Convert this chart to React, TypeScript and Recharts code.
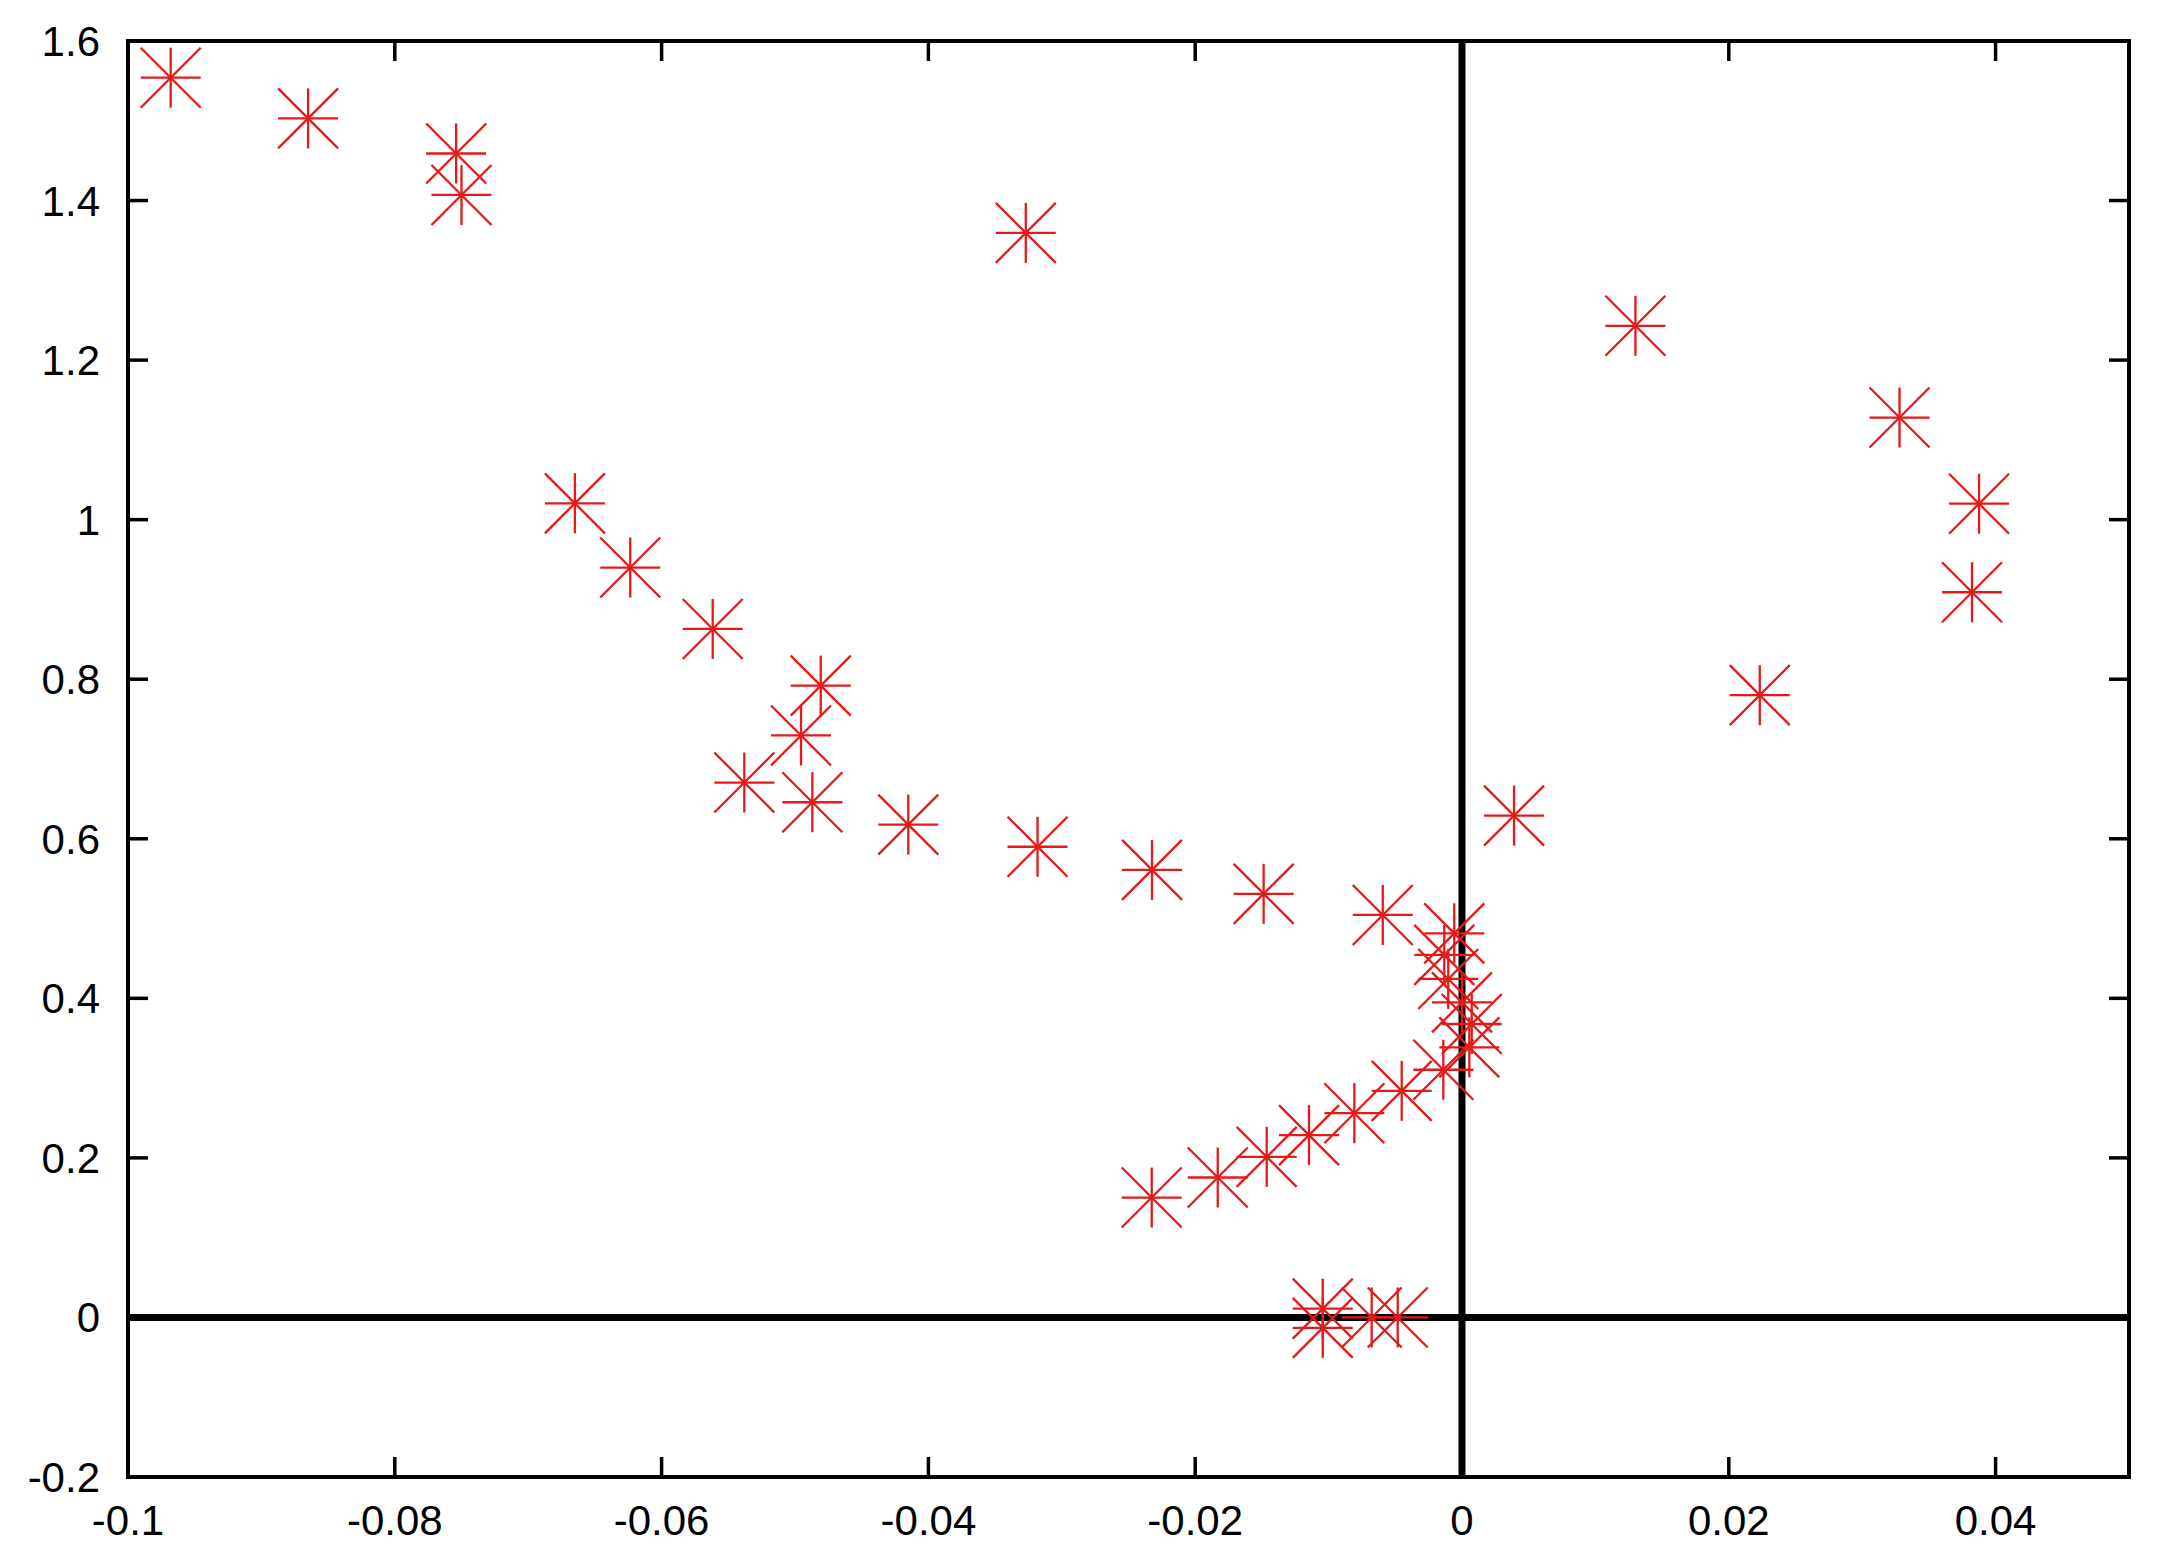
import React from 'react';
import { ScatterChart, Scatter, XAxis, YAxis, ReferenceLine, ReferenceArea } from 'recharts';

const xValues = [
  -0.0968, -0.0865, -0.0754, -0.075, -0.0327, 0.013, 0.0328, 0.03876, 0.03823, 0.02232,
  0.0039, -0.0665, -0.06235, -0.05617, -0.04807, -0.04955, -0.0538, -0.0487, -0.04151, -0.03182,
  -0.02324, -0.01487, -0.00594, -0.00058, -0.00133, -0.00103, 0.0, 0.00073, 0.00055, -0.0014,
  -0.00452, -0.00807, -0.01147, -0.01464, -0.01831, -0.02326, -0.01044, -0.01044, -0.00677, -0.00482,
];
const yValues = [
  1.554, 1.503, 1.459, 1.407, 1.3595, 1.243, 1.128, 1.02, 0.909, 0.78,
  0.629, 1.0205, 0.94, 0.863, 0.792, 0.7295, 0.6705, 0.6458, 0.6178, 0.59,
  0.561, 0.531, 0.5045, 0.4815, 0.4544, 0.4243, 0.3949, 0.3678, 0.3385, 0.3105,
  0.284, 0.256, 0.2286, 0.2013, 0.1754, 0.1503, 0.011, -0.013, 0.0, 0.0,
];
const xTicks = [-0.1, -0.08, -0.06, -0.04, -0.02, 0, 0.02, 0.04];
const yTicks = [-0.2, 0, 0.2, 0.4, 0.6, 0.8, 1, 1.2, 1.4, 1.6];
const xDomain: [number, number] = [-0.1, 0.05];
const yDomain: [number, number] = [-0.2, 1.6];

const points = xValues.map((x, i) => ({ x, y: yValues[i] }));

const RED = '#e81818';
const FONT = '"Liberation Sans", Arial, Helvetica, sans-serif';
const FS = 42;
const TICK_LEN = 20;
const TICK_W = 3.5;

const Star = (props: any) => {
  const { cx, cy } = props;
  if (cx == null || cy == null) return <g />;
  const r = 30;
  return (
    <g stroke={RED} strokeWidth={2.3} fill="none">
      <line x1={cx - r} y1={cy} x2={cx + r} y2={cy} />
      <line x1={cx} y1={cy - r} x2={cx} y2={cy + r} />
      <line x1={cx - r} y1={cy - r} x2={cx + r} y2={cy + r} />
      <line x1={cx - r} y1={cy + r} x2={cx + r} y2={cy - r} />
    </g>
  );
};

const Empty = () => <g />;

const BottomTick = (props: any) => {
  const { x, y, payload } = props;
  return (
    <g>
      <line x1={x} y1={y} x2={x} y2={y - TICK_LEN} stroke="#000" strokeWidth={TICK_W} />
      <text x={x} y={y + 58} textAnchor="middle" fontSize={FS} fontFamily={FONT} fill="#000">
        {String(payload.value)}
      </text>
    </g>
  );
};

const TopTick = (props: any) => {
  const { x, y } = props;
  return <line x1={x} y1={y} x2={x} y2={y + TICK_LEN} stroke="#000" strokeWidth={TICK_W} />;
};

const LeftTick = (props: any) => {
  const { x, y, payload } = props;
  return (
    <g>
      <line x1={x} y1={y} x2={x + TICK_LEN} y2={y} stroke="#000" strokeWidth={TICK_W} />
      <text x={x - 28} y={y + 15} textAnchor="end" fontSize={FS} fontFamily={FONT} fill="#000">
        {String(payload.value)}
      </text>
    </g>
  );
};

const RightTick = (props: any) => {
  const { x, y } = props;
  return <line x1={x} y1={y} x2={x - TICK_LEN} y2={y} stroke="#000" strokeWidth={TICK_W} />;
};

export default function App() {
  return (
    <div style={{ position: 'absolute', left: 0, top: 0, width: 2158, height: 1558, background: '#fff' }}>
      <ScatterChart width={2158} height={1558} margin={{ top: 0, right: 0, bottom: 0, left: 0 }}>
        <XAxis
          dataKey="x"
          type="number"
          xAxisId="bottom"
          orientation="bottom"
          domain={xDomain}
          ticks={xTicks}
          interval={0}
          height={81}
          tickSize={0}
          tickMargin={0}
          tickLine={false}
          axisLine={false}
          tick={<BottomTick />}
        />
        <XAxis
          dataKey="x"
          type="number"
          xAxisId="top"
          orientation="top"
          domain={xDomain}
          ticks={xTicks}
          interval={0}
          height={41}
          tickSize={0}
          tickMargin={0}
          tickLine={false}
          axisLine={false}
          tick={<TopTick />}
        />
        <YAxis
          dataKey="y"
          type="number"
          yAxisId="left"
          orientation="left"
          domain={yDomain}
          ticks={yTicks}
          interval={0}
          width={128}
          tickSize={0}
          tickMargin={0}
          tickLine={false}
          axisLine={false}
          tick={<LeftTick />}
        />
        <YAxis
          dataKey="y"
          type="number"
          yAxisId="right"
          orientation="right"
          domain={yDomain}
          ticks={yTicks}
          interval={0}
          width={29}
          tickSize={0}
          tickMargin={0}
          tickLine={false}
          axisLine={false}
          tick={<RightTick />}
        />
        <ReferenceArea
          xAxisId="bottom"
          yAxisId="left"
          x1={xDomain[0]}
          x2={xDomain[1]}
          y1={yDomain[0]}
          y2={yDomain[1]}
          fill="none"
          fillOpacity={0}
          stroke="#000"
          strokeWidth={4}
          strokeOpacity={1}
        />
        <ReferenceLine xAxisId="bottom" yAxisId="left" x={0} stroke="#000" strokeWidth={7} />
        <ReferenceLine xAxisId="bottom" yAxisId="left" y={0} stroke="#000" strokeWidth={7} />
        <Scatter data={points} xAxisId="top" yAxisId="right" shape={<Empty />} isAnimationActive={false} />
        <Scatter data={points} xAxisId="bottom" yAxisId="left" shape={<Star />} isAnimationActive={false} />
      </ScatterChart>
    </div>
  );
}
